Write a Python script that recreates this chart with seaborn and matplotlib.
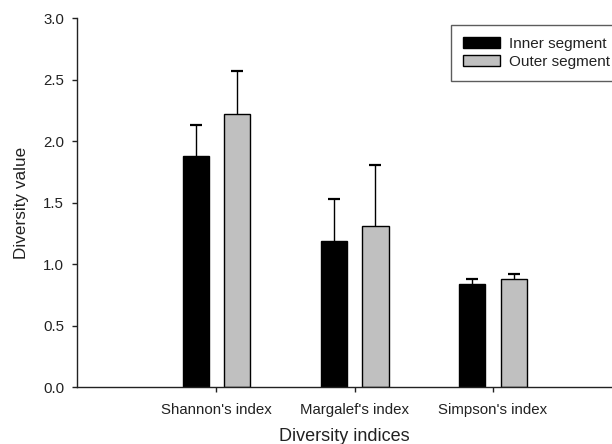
import matplotlib
matplotlib.use("Agg")
import matplotlib.pyplot as plt
import seaborn as sns
import pandas as pd

# Diversity indices for the two segments (mean and standard deviation)
categories = ["Shannon's index", "Margalef's index", "Simpson's index"]
segments = ["Inner segment", "Outer segment"]
inner_mean = [1.88, 1.19, 0.84]
outer_mean = [2.22, 1.31, 0.88]
inner_sd = [0.25, 0.34, 0.04]
outer_sd = [0.35, 0.50, 0.04]

df = pd.DataFrame({
    "index": categories * 2,
    "segment": [segments[0]] * 3 + [segments[1]] * 3,
    "value": inner_mean + outer_mean,
})
sd_by_segment = {segments[0]: inner_sd, segments[1]: outer_sd}

sns.set_theme(style="white")
plt.rcParams["font.family"] = ["Liberation Sans", "DejaVu Sans"]

fig = plt.figure(figsize=(6.12, 4.44), dpi=100)
ax = fig.add_axes([0.1253, 0.1277, 0.8747, 0.8311])

sns.barplot(
    data=df, x="index", y="value", hue="segment",
    order=categories, hue_order=segments,
    palette=["#000000", "#c0c0c0"],
    width=0.6, gap=0.37, errorbar=None,
    edgecolor="black", linewidth=1.0, ax=ax, saturation=1,
)

# upward-only error bars with a cap on top of each bar
for container, seg in zip(ax.containers, segments):
    xs = [p.get_x() + p.get_width() / 2 for p in container.patches]
    ys = [p.get_height() for p in container.patches]
    sd = sd_by_segment[seg]
    _, caps, _ = ax.errorbar(xs, ys, yerr=[[0] * len(sd), sd], fmt="none",
                             ecolor="black", elinewidth=1.0, capsize=4.2,
                             capthick=1.6, zorder=3)
    caps[0].set_visible(False)  # no cap at the bar top itself

ax.set_ylim(0, 3.0)
ax.set_xlim(-1.01, 2.86)
ax.set_yticks([0.0, 0.5, 1.0, 1.5, 2.0, 2.5, 3.0])
ax.set_yticklabels([f"{v:.1f}" for v in [0.0, 0.5, 1.0, 1.5, 2.0, 2.5, 3.0]])

for side in ["top", "right"]:
    ax.spines[side].set_visible(False)
for side in ["left", "bottom"]:
    ax.spines[side].set_color("#222222")
    ax.spines[side].set_linewidth(1.0)

ax.tick_params(axis="both", which="major", direction="out", length=3.5,
               width=1.0, color="#222222", labelsize=10.8, labelcolor="#222222")
ax.tick_params(axis="x", pad=7.5)
ax.tick_params(axis="y", pad=5.5)
ax.tick_params(left=True, bottom=True)

ax.set_xlabel("Diversity indices", fontsize=13, color="#222222", labelpad=8)
ax.set_ylabel("Diversity value", fontsize=12.3, color="#222222", labelpad=10)

leg = ax.legend(
    loc="upper left", bbox_to_anchor=(450.7 / 612, 1 - 25 / 444),
    bbox_transform=fig.transFigure, fontsize=11, frameon=True,
    fancybox=False, handlelength=2.4, handleheight=0.72,
    handletextpad=0.62, borderpad=0.8, labelspacing=0.25, borderaxespad=0,
)
leg.get_frame().set_edgecolor("#333333")
leg.get_frame().set_linewidth(1.0)
for t in leg.get_texts():
    t.set_color("#222222")

fig.savefig("out.png", dpi=100)
